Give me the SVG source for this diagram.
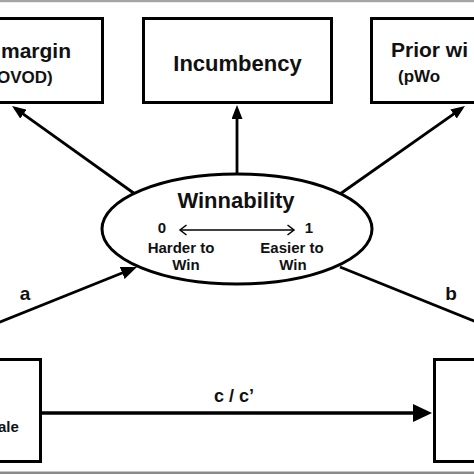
<svg xmlns="http://www.w3.org/2000/svg" width="474" height="474" viewBox="0 0 474 474">
<style>
.box{fill:#fff;stroke:#000;stroke-width:3}
.t{font-family:"Liberation Sans",Arial,sans-serif;font-weight:bold;fill:#111}
.ln{stroke:#000;stroke-width:2.8;fill:none}
</style>
<defs>
<marker id="ah" markerUnits="userSpaceOnUse" markerWidth="14" markerHeight="11" refX="10" refY="5.5" orient="auto"><path d="M0,0 L14,5.5 L0,11 z" fill="#000"/></marker>
<marker id="ahA" markerUnits="userSpaceOnUse" markerWidth="16" markerHeight="13" refX="12" refY="6.5" orient="auto"><path d="M0,0 L16,6.5 L0,13 z" fill="#000"/></marker>
<marker id="ahC" markerUnits="userSpaceOnUse" markerWidth="19" markerHeight="18" refX="15" refY="9" orient="auto"><path d="M0,0 L19,9 L0,18 z" fill="#000"/></marker>
<marker id="chev" markerUnits="userSpaceOnUse" markerWidth="10" markerHeight="12" refX="7.5" refY="6" orient="auto-start-reverse"><path d="M1,1 L7.5,6 L1,11" fill="none" stroke="#000" stroke-width="1.5"/></marker>
</defs>
<rect x="0" y="0" width="474" height="474" fill="#fff"/>
<rect x="0" y="0" width="474" height="2.2" fill="#a4a4a4"/>
<rect x="0" y="471.5" width="474" height="2.5" fill="#8a8a8a"/>

<g id="connectors">
<line class="ln" x1="135" y1="194" x2="15.3" y2="108.3" marker-end="url(#ah)"/>
<line class="ln" x1="237" y1="174" x2="237" y2="109" marker-end="url(#ah)"/>
<line class="ln" x1="340" y1="194" x2="461.7" y2="108.3" marker-end="url(#ah)"/>
<line class="ln" x1="-5" y1="324" x2="133.3" y2="268.5" marker-end="url(#ahA)"/>
<line class="ln" x1="340" y1="267" x2="480" y2="323.5"/>
<line class="ln" x1="42" y1="413" x2="428" y2="413" style="stroke-width:3.6" marker-end="url(#ahC)"/>
<text class="t" x="25" y="300" font-size="19" text-anchor="middle">a</text>
<text class="t" x="451" y="300" font-size="19" text-anchor="middle">b</text>
<text class="t" x="234" y="402" font-size="18" text-anchor="middle">c / c’</text>
</g>

<g id="node-margin">
<rect class="box" x="-10" y="18.5" width="112.5" height="84"/>
<text class="t" x="1" y="58" font-size="21">margin</text>
<text class="t" x="-3" y="83" font-size="17">OVOD)</text>
</g>

<g id="node-incumbency">
<rect class="box" x="143.5" y="18.5" width="188" height="84"/>
<text class="t" x="237.5" y="71" font-size="22" text-anchor="middle">Incumbency</text>
</g>

<g id="node-prior">
<rect class="box" x="371.5" y="18.5" width="110" height="84"/>
<text class="t" x="391" y="57" font-size="21">Prior wi</text>
<text class="t" x="398" y="82" font-size="17">(pWo</text>
</g>

<g id="node-winnability">
<ellipse cx="237" cy="229" rx="135" ry="55" fill="#fff" stroke="#000" stroke-width="3"/>
<text class="t" x="236" y="208" font-size="22" text-anchor="middle">Winnability</text>
<text class="t" x="162" y="233" font-size="15" text-anchor="middle">0</text>
<text class="t" x="309" y="233" font-size="15" text-anchor="middle">1</text>
<line x1="180" y1="230" x2="294" y2="230" stroke="#000" stroke-width="1.5" marker-start="url(#chev)" marker-end="url(#chev)"/>
<text class="t" x="181" y="253" font-size="15" text-anchor="middle">Harder to</text>
<text class="t" x="186" y="270" font-size="15" text-anchor="middle">Win</text>
<text class="t" x="292" y="253" font-size="15" text-anchor="middle">Easier to</text>
<text class="t" x="293" y="270" font-size="15" text-anchor="middle">Win</text>
</g>

<g id="node-left">
<rect class="box" x="-10" y="359.5" width="50.5" height="102"/>
<text class="t" x="-2" y="432" font-size="15">ale</text>
</g>

<g id="node-right">
<rect class="box" x="434.5" y="359.5" width="50" height="102"/>
</g>
</svg>
